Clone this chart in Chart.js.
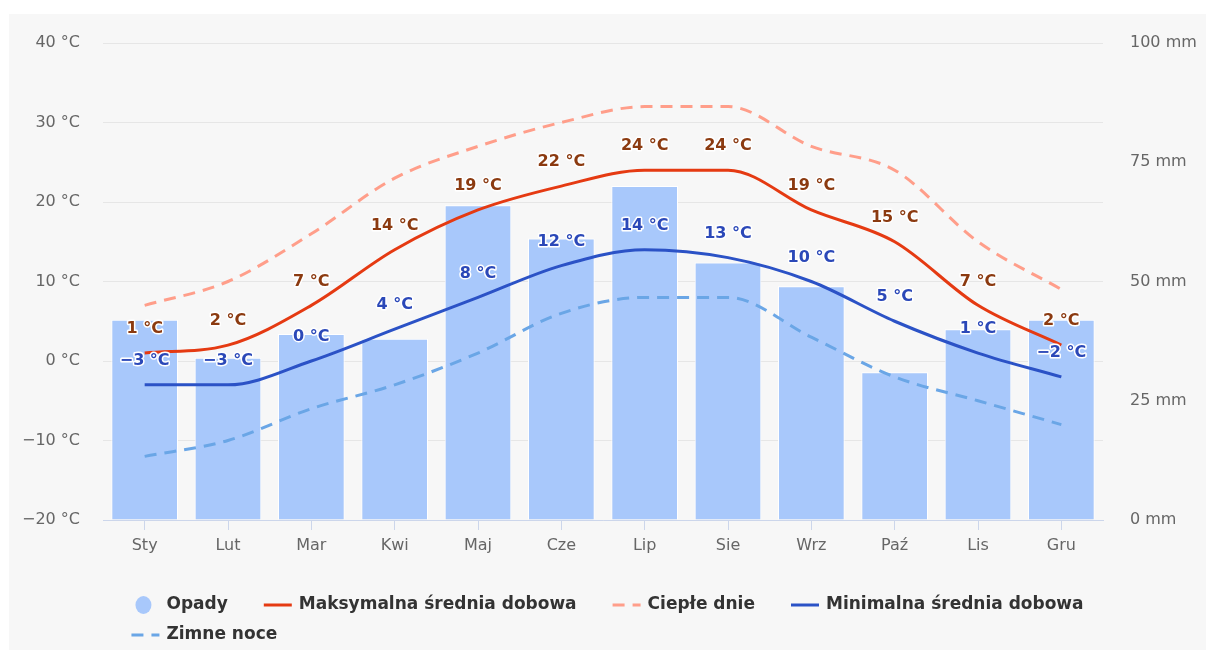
<!DOCTYPE html>
<html lang="pl">
<head>
<meta charset="utf-8">
<title>Klimat</title>
<script src="https://cdn.jsdelivr.net/npm/chart.js@4.4.1/dist/chart.umd.min.js"></script>
<style>
    html, body { margin: 0; padding: 0; background: #fff; }
    #wrap { position: absolute; left: 9px; top: 14px; width: 1197px; height: 636px; background: #f7f7f7; }
</style>
</head>
<body>
<div id="wrap"><canvas id="wykres"></canvas></div>
<script>
const miesiace = ['Sty', 'Lut', 'Mar', 'Kwi', 'Maj', 'Cze', 'Lip', 'Sie', 'Wrz', 'Paź', 'Lis', 'Gru'];
const opady = [42, 34, 39, 38, 66, 59, 70, 54, 49, 31, 40, 42];
const maksymalna = [1, 2, 7, 14, 19, 22, 24, 24, 19, 15, 7, 2];
const cieple = [7, 10, 16, 23, 27, 30, 32, 32, 27, 24, 15, 9];
const minimalna = [-3, -3, 0, 4, 8, 12, 14, 13, 10, 5, 1, -2];
const zimne = [-12, -10, -6, -3, 1, 6, 8, 8, 3, -2, -5, -8];

const FONT = '"DejaVu Sans", Verdana, sans-serif';

const znak = (v) => (v < 0 ? '\u2212' + Math.abs(v) : String(v));

// etykiety nad punktami (max / min)
const etykiety = {
    id: 'etykiety',
    afterDatasetsDraw(chart) {
        const ctx = chart.ctx;
        ctx.save();
        ctx.font = 'bold 16px ' + FONT;
        ctx.textAlign = 'center';
        ctx.textBaseline = 'middle';
        ctx.lineJoin = 'round';
        chart.data.datasets.forEach((ds, i) => {
            if (!ds.kolorEtykiety) return;
            const meta = chart.getDatasetMeta(i);
            meta.data.forEach((pt, j) => {
                const txt = znak(ds.data[j]) + ' °C';
                const y = pt.y - 24;
                ctx.strokeStyle = '#ffffff';
                ctx.lineWidth = 3;
                ctx.strokeText(txt, pt.x, y);
                ctx.fillStyle = ds.kolorEtykiety;
                ctx.fillText(txt, pt.x, y);
            });
        });
        ctx.restore();
    }
};

// legenda w stylu oryginalu (wiersze od lewej)
const legenda = {
    id: 'legenda',
    afterDraw(chart) {
        const ctx = chart.ctx;
        const zestawy = chart.data.datasets;
        const symW = 28, odstep = 7, przerwa = 36, maxW = 1000;
        ctx.save();
        ctx.font = 'bold 17px ' + FONT;
        const szer = zestawy.map((ds) => symW + odstep + ctx.measureText(ds.label).width);
        const wiersze = [[]];
        let biezaca = 0;
        szer.forEach((w, i) => {
            const w2 = wiersze[wiersze.length - 1].length ? przerwa + w : w;
            if (biezaca + w2 > maxW) {
                wiersze.push([i]);
                biezaca = w;
            } else {
                wiersze[wiersze.length - 1].push(i);
                biezaca += w2;
            }
        });
        const szerWierszy = wiersze.map((r) => r.reduce((s, i, k) => s + szer[i] + (k ? przerwa : 0), 0));
        const start = (chart.width - Math.max(...szerWierszy)) / 2;
        const y0 = chart.height - 45;
        wiersze.forEach((r, ri) => {
            let x = start;
            const y = y0 + ri * 30;
            r.forEach((i) => {
                const ds = zestawy[i];
                if (ds.type === 'bar') {
                    ctx.fillStyle = ds.backgroundColor;
                    ctx.beginPath();
                    ctx.ellipse(x + 12, y, 8, 9, 0, 0, Math.PI * 2);
                    ctx.fill();
                } else {
                    ctx.strokeStyle = ds.borderColor;
                    ctx.lineWidth = 3;
                    ctx.setLineDash(ds.borderDash || []);
                    ctx.beginPath();
                    ctx.moveTo(x, y);
                    ctx.lineTo(x + symW, y);
                    ctx.stroke();
                    ctx.setLineDash([]);
                }
                ctx.fillStyle = '#333333';
                ctx.textAlign = 'left';
                ctx.textBaseline = 'middle';
                ctx.fillText(ds.label, x + symW + odstep, y);
                x += szer[i] + przerwa;
            });
        });
        ctx.restore();
    }
};

const linia = (label, data, kolor, dash, kolorEtykiety, order) => ({
    type: 'line',
    label,
    data,
    yAxisID: 'y',
    borderColor: kolor,
    backgroundColor: kolor,
    borderWidth: 3,
    borderDash: dash,
    pointRadius: 0,
    pointHoverRadius: 0,
    cubicInterpolationMode: 'monotone',
    fill: false,
    kolorEtykiety,
    order
});

// szerokosc osi stala, bez dodatkowego marginesu u gory
const stalaOs = (szer) => (s) => {
    s.width = szer;
    s.paddingTop = 0;
    s.paddingBottom = 0;
};

new Chart(document.getElementById('wykres'), {
    data: {
        labels: miesiace,
        datasets: [
            {
                type: 'bar',
                label: 'Opady',
                data: opady,
                yAxisID: 'y1',
                backgroundColor: '#a8c8fb',
                borderColor: '#ffffff',
                borderWidth: 1,
                barPercentage: 0.8,
                categoryPercentage: 1,
                order: 10
            },
            linia('Maksymalna średnia dobowa', maksymalna, '#e53a12', [], '#8b3a10', 2),
            linia('Ciepłe dnie', cieple, '#ff9e8a', [12, 8], null, 3),
            linia('Minimalna średnia dobowa', minimalna, '#2b52c6', [], '#2b48b8', 1),
            linia('Zimne noce', zimne, '#6aa6e6', [12, 8], null, 4)
        ]
    },
    options: {
        responsive: true,
        maintainAspectRatio: false,
        animation: false,
        layout: { padding: { top: 29, left: 0, right: 0, bottom: 80 } },
        plugins: {
            legend: { display: false },
            tooltip: { enabled: false }
        },
        scales: {
            x: {
                grid: {
                    offset: false,
                    drawOnChartArea: false,
                    drawTicks: true,
                    tickLength: 10,
                    color: '#ccd6eb'
                },
                border: { color: '#ccd6eb' },
                ticks: { color: '#666666', font: { family: FONT, size: 16 }, padding: 6 },
                afterFit: (s) => { s.height = 50; }
            },
            y: {
                position: 'left',
                min: -20,
                max: 40,
                grid: { color: '#e6e6e6', drawTicks: false },
                border: { display: false },
                ticks: {
                    stepSize: 10,
                    padding: 23,
                    color: '#666666',
                    font: { family: FONT, size: 16 },
                    callback: (v) => znak(v) + ' °C'
                },
                afterFit: stalaOs(94)
            },
            y1: {
                position: 'right',
                min: 0,
                max: 100,
                grid: { drawOnChartArea: false, drawTicks: false },
                border: { display: false },
                ticks: {
                    stepSize: 25,
                    padding: 27,
                    color: '#666666',
                    font: { family: FONT, size: 16 },
                    callback: (v) => v + ' mm'
                },
                afterFit: stalaOs(103)
            }
        }
    },
    plugins: [etykiety, legenda]
});
</script>
</body>
</html>
